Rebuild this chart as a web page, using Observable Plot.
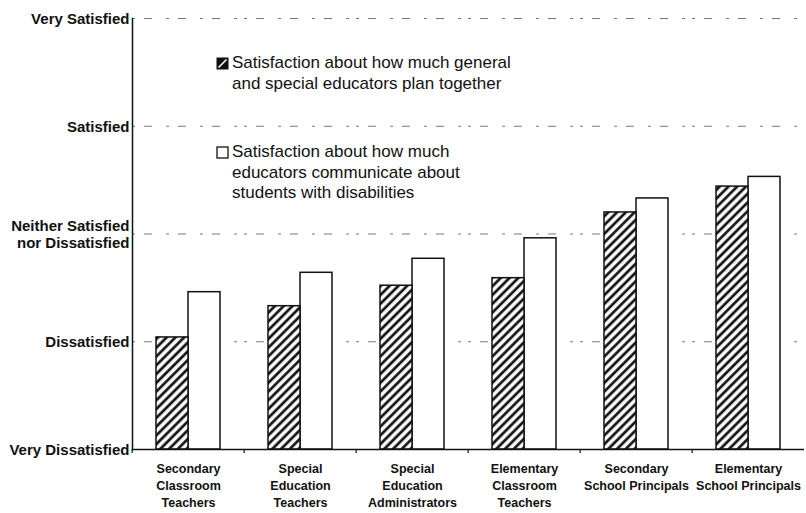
<!DOCTYPE html>
<html><head><meta charset="utf-8">
<script src="https://cdn.jsdelivr.net/npm/d3@7"></script>
<script src="https://cdn.jsdelivr.net/npm/@observablehq/plot@0.6"></script>
<style>
body{margin:0;background:#fff;}
#wrap{position:relative;width:806px;height:513px;overflow:hidden;}
.legend{position:absolute;font-family:"Liberation Sans Narrow","Arial Narrow","Liberation Sans",sans-serif;font-size:17px;line-height:20.7px;color:#111;white-space:pre;}
.sw{position:absolute;}
</style></head><body><div id="wrap"></div>
<script>
const categories = [
  "Secondary\nClassroom\nTeachers",
  "Special\nEducation\nTeachers",
  "Special\nEducation\nAdministrators",
  "Elementary\nClassroom\nTeachers",
  "Secondary\nSchool Principals",
  "Elementary\nSchool Principals"
];
const seriesNames = ["plan", "communicate"];
const planValues = [2.04, 2.33, 2.52, 2.59, 3.20, 3.44];
const commValues = [2.46, 2.64, 2.77, 2.96, 3.33, 3.53];
const yTickValues = [1, 2, 3, 4, 5];
const yTickLabels = ["Very Dissatisfied", "Dissatisfied", "Neither Satisfied\nnor Dissatisfied", "Satisfied", "Very Satisfied"];
const gridValues = [2, 3, 4, 5];
const legendLabels = [
  "Satisfaction about how much general\nand special educators plan together",
  "Satisfaction about how much\neducators communicate about\nstudents with disabilities"
];

const planRows = categories.map((c, i) => ({category: c, series: seriesNames[0], value: planValues[i]}));
const commRows = categories.map((c, i) => ({category: c, series: seriesNames[1], value: commValues[i]}));

const plotWidth = 806, marginLeft = 130, marginRight = 0;
const halfBand = (plotWidth - marginLeft - marginRight) / categories.length / 2;

const chart = Plot.plot({
  width: plotWidth, height: 513,
  marginLeft, marginRight, marginTop: 18, marginBottom: 64,
  style: {fontFamily: "'Liberation Sans', Arial, sans-serif", fontSize: "12px", color: "#111", background: "white"},
  fx: {domain: categories, paddingInner: 0, paddingOuter: 0, label: null},
  x: {domain: seriesNames, paddingInner: 0, paddingOuter: 0.74, axis: null},
  y: {domain: [1, 5], label: null},
  marks: [
    Plot.ruleY(gridValues, {stroke: "#777", strokeDasharray: "3,9,8,14", strokeWidth: 1}),
    Plot.barY(commRows, {fx: "category", x: "series", y1: 1, y2: "value", fill: "white", stroke: "#111", strokeWidth: 1.5}),
    Plot.barY(planRows, {fx: "category", x: "series", y1: 1, y2: "value", fill: "url(#hatch)", stroke: "#111", strokeWidth: 1.5}),
    Plot.ruleY([1], {stroke: "#111", strokeWidth: 1.3}),
    Plot.axisY({ticks: yTickValues, tickFormat: d => yTickLabels[yTickValues.indexOf(d)], tickSize: 0, tickPadding: 3, fontWeight: "bold", fontSize: 15, lineHeight: 1.15, label: null}),
    Plot.axisFx({anchor: "bottom", tickSize: 0, tickPadding: 12, fontWeight: "bold", fontSize: 12.5, lineHeight: 1.35, label: null}),
    Plot.axisFx({anchor: "bottom", tickSize: 4, text: null, dx: -halfBand, stroke: "#111", strokeWidth: 1.2, label: null}),
    Plot.frame({anchor: "left", facetAnchor: "left", stroke: "#111", strokeWidth: 1.5})
  ]
});

d3.select(chart).insert("defs", ":first-child").html(
  '<pattern id="hatch" patternUnits="userSpaceOnUse" width="6.2" height="6.2" patternTransform="rotate(45)">' +
  '<rect width="6.2" height="6.2" fill="white"/>' +
  '<line x1="1.6" y1="0" x2="1.6" y2="6.2" stroke="#111" stroke-width="2.7"/></pattern>'
);

const wrap = document.getElementById("wrap");
wrap.appendChild(chart);

function addLegend(i, top, hatched) {
  const sw = document.createElementNS("http://www.w3.org/2000/svg", "svg");
  sw.setAttribute("width", 14); sw.setAttribute("height", 14);
  sw.setAttribute("class", "sw");
  sw.style.left = "216px"; sw.style.top = (top + 4) + "px";
  sw.innerHTML = hatched
    ? '<rect x="1" y="1" width="11" height="11" fill="#111" stroke="#111"/><line x1="2.5" y1="10.5" x2="10.5" y2="2.5" stroke="white" stroke-width="1.6"/>'
    : '<rect x="1" y="1" width="11" height="11" fill="white" stroke="#111" stroke-width="1.3"/>';
  wrap.appendChild(sw);
  const div = document.createElement("div");
  div.className = "legend";
  div.style.left = "232px"; div.style.top = top + "px";
  div.textContent = legendLabels[i];
  wrap.appendChild(div);
}
addLegend(0, 53, true);
addLegend(1, 142, false);
</script>
</body></html>
